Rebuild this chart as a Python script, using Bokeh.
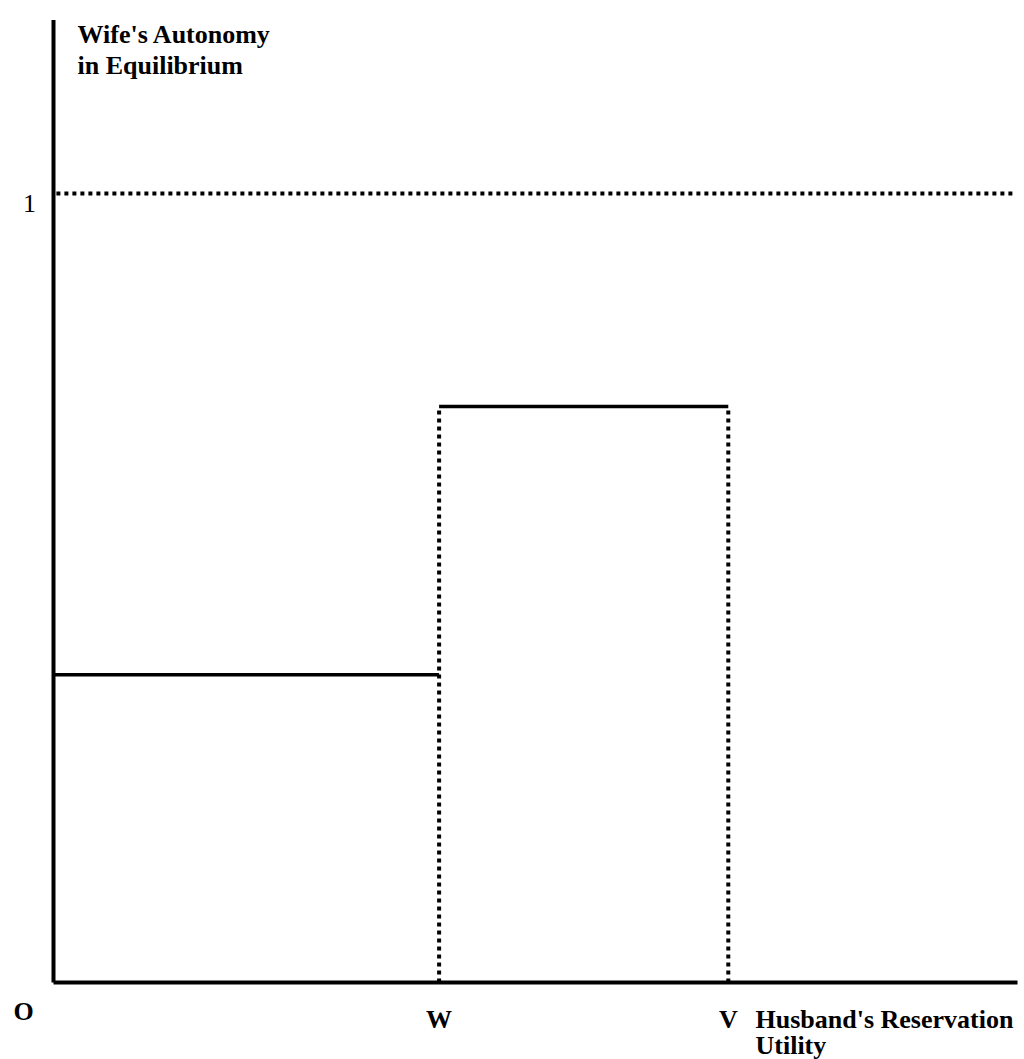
from bokeh.plotting import figure
from bokeh.embed import file_html
from bokeh.resources import INLINE
from bokeh.core.properties import value

# ---- data (model units: O = origin, 1 = upper bound of autonomy) ----
point_labels = ["W", "V"]
point_x = [0.40, 0.70]           # W, V on the husband's reservation-utility axis
step_x_start = [0.0, 0.40]
step_x_end = [0.40, 0.70]
step_level = [0.39, 0.73]        # wife's autonomy in equilibrium on each segment
upper_bound = 1.0
y_tick_label = "1"
origin_label = "O"
x_title = ["Husband's Reservation", "Utility"]
y_title = ["Wife's Autonomy", "in Equilibrium"]
x_axis_end = 1.0
y_axis_end = 1.22

W_PX, H_PX = 1024, 1059
X_PER = 964.0
Y_PER = 789.0
x0 = -53 / X_PER
x1 = x0 + W_PX / X_PER
y1 = 982 / Y_PER
y0 = y1 - H_PX / Y_PER

p = figure(width=W_PX, height=H_PX, x_range=(x0, x1), y_range=(y0, y1),
           output_backend="svg", toolbar_location=None, min_border=0)
p.axis.visible = False
p.grid.visible = False
p.outline_line_color = None
p.background_fill_color = "white"
p.border_fill_color = "white"

FONT = value("Liberation Serif")

# axes
p.line([0, 0], [0, y_axis_end], line_color="black", line_width=4)
p.line([0, x_axis_end], [0, 0], line_color="black", line_width=4)

# upper bound dotted line
p.line([0.003, 0.998], [upper_bound, upper_bound], line_color="black",
       line_width=4, line_dash="4 4")

# step function
p.segment(x0=step_x_start, y0=step_level, x1=step_x_end, y1=step_level,
          line_color="black", line_width=3.5)

# dotted verticals at W and V
p.segment(x0=point_x, y0=[0, 0], x1=point_x, y1=[step_level[1], step_level[1]],
          line_color="black", line_width=4, line_dash="4 4")

# labels on x axis
p.text(x=point_x, y=[0, 0], text=point_labels, text_font=FONT,
       text_font_style="bold", text_font_size="26px", text_align="center",
       text_baseline="alphabetic", y_offset=37, text_color="black")
p.text(x=[-30 / X_PER], y=[0], text=[origin_label], text_font=FONT,
       text_font_style="bold", text_font_size="26px", text_align="center",
       text_baseline="alphabetic", y_offset=29, text_color="black")
p.text(x=[(755 - 53) / X_PER] * 2, y=[0, 0], text=x_title, text_font=FONT,
       text_font_style="bold", text_font_size="26px", text_align="left",
       text_baseline="alphabetic", y_offset=[37, 63], text_color="black")

# y tick label
p.text(x=[-24 / X_PER], y=[upper_bound], text=[y_tick_label], text_font=FONT,
       text_font_size="26px", text_align="center", text_baseline="alphabetic",
       y_offset=10, text_color="black")

# y title
p.text(x=[(77 - 53) / X_PER] * 2, y=[y_axis_end, y_axis_end], text=y_title,
       text_font=FONT, text_font_style="bold", text_font_size="26px",
       text_align="left", text_baseline="alphabetic",
       y_offset=[34 - 19, 65 - 19], text_color="black")

open("out.html", "w").write(file_html(p, INLINE))
